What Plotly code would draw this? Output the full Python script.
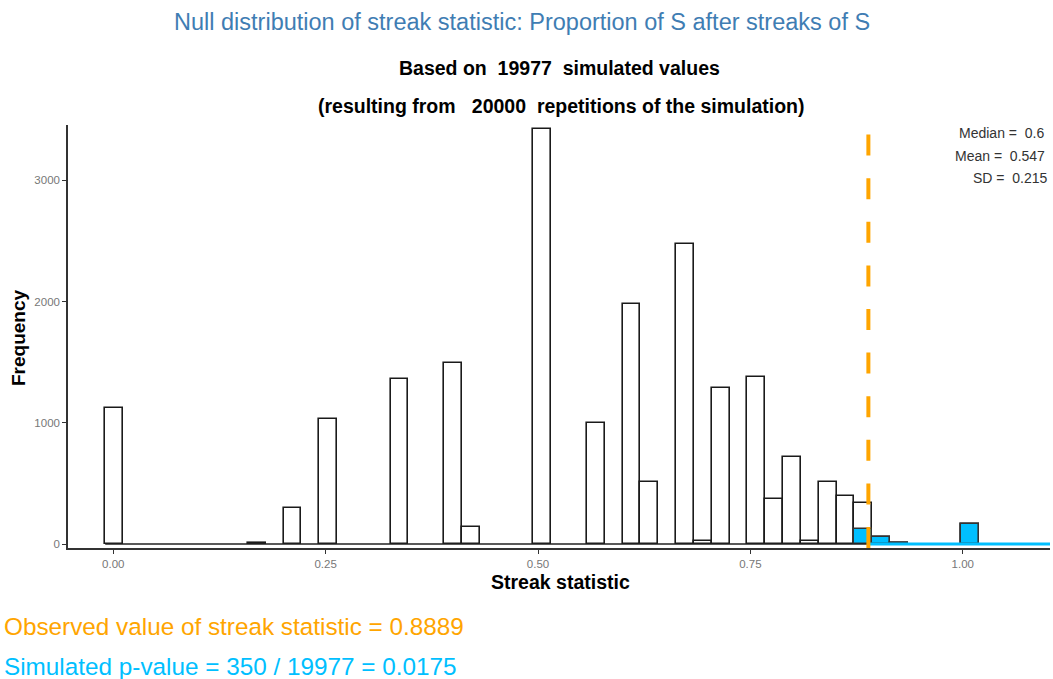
import plotly.graph_objects as go

# ---- data ----
bin_width = 0.021
bin_centers = [0.001, 0.169, 0.211, 0.253, 0.337, 0.400, 0.421, 0.505, 0.568, 0.610,
               0.631, 0.673, 0.694, 0.715, 0.757, 0.778, 0.799, 0.820, 0.841, 0.862,
               0.883, 0.904, 0.925, 1.009]
counts = [1120, 12, 295, 1029, 1359, 1491, 143, 3422, 996, 1980,
          512, 2475, 27, 1290, 1380, 369, 720, 27, 512, 399,
          336, 60, 8, 165]
# simulated values >= observed (shaded)
tail_centers = [0.883, 0.904, 0.925, 1.009]
tail_counts = [121, 60, 8, 165]

observed = 0.8889
n_sim = 19977
n_reps = 20000
n_extreme = 350
p_value = 0.0175
stat_median, stat_mean, stat_sd = 0.6, 0.547, 0.215

x_ticks = [0.0, 0.25, 0.5, 0.75, 1.0]
y_ticks = [0, 1000, 2000, 3000]
x_range = [-0.0533, 1.1027]
y_range = [-33, 3457]

ORANGE = "#FFA500"
SKY = "#00BFFF"
TITLE_BLUE = "#3F7DB3"
FONT = "Liberation Sans, Arial, sans-serif"

W, H = 1053, 679
ML, MR, MT, MB = 68, 3, 125, 131
PW, PH = W - ML - MR, H - MT - MB


def px(xp, yp):
    return (xp - ML) / PW, (H - MB - yp) / PH


fig = go.Figure()

# baseline of empty bins (black for below observed, blue for the tail)
fig.add_trace(go.Scatter(x=[bin_centers[0] - bin_width / 2, observed], y=[0, 0], mode="lines",
                         line=dict(color="#222", width=1.5), hoverinfo="skip", showlegend=False))

fig.add_trace(go.Bar(x=bin_centers, y=counts, width=bin_width,
                     marker=dict(color="white", line=dict(color="#1a1a1a", width=1.6)),
                     showlegend=False))
fig.add_trace(go.Bar(x=tail_centers, y=tail_counts, width=bin_width,
                     marker=dict(color=SKY, line=dict(color="#333", width=1.6)),
                     showlegend=False))

fig.add_trace(go.Scatter(x=[observed, x_range[1]], y=[0, 0], mode="lines",
                         line=dict(color=SKY, width=3), hoverinfo="skip", showlegend=False))

fig.add_shape(type="line", x0=observed, x1=observed, xref="x", yref="y domain", y0=0, y1=0.982,
              line=dict(color=ORANGE, width=4, dash="21px,22.6px"), layer="above")

fig.update_layout(
    width=W, height=H, margin=dict(l=ML, r=MR, t=MT, b=MB),
    paper_bgcolor="white", plot_bgcolor="white", barmode="overlay", bargap=0,
    font=dict(family=FONT),
    xaxis=dict(range=x_range, tickvals=x_ticks, tickformat=".2f", showgrid=False, zeroline=False,
               showline=True, linecolor="#333", linewidth=1.5, ticks="outside", ticklen=4,
               tickcolor="#333", tickfont=dict(size=11.5, color="#777")),
    yaxis=dict(range=y_range, tickvals=y_ticks, tickformat="d", showgrid=False, zeroline=False,
               showline=True, linecolor="#333", linewidth=1.5, ticks="outside", ticklen=4,
               tickcolor="#333", tickfont=dict(size=11.5, color="#777")),
)

NB = "\u00a0"


def ann(text, xp, yp, size, color, xanchor="center", bold=False, angle=0):
    x, y = px(xp, yp)
    t = f"<b>{text}</b>" if bold else text
    fig.add_annotation(text=t, x=x, y=y, xref="paper", yref="paper", xanchor=xanchor,
                       yanchor="middle", showarrow=False, textangle=angle,
                       font=dict(size=size, color=color, family=FONT))


ann("Null distribution of streak statistic: Proportion of S after streaks of S", 522, 22, 23.5, TITLE_BLUE)
ann(f"Based on{NB*2}{n_sim}{NB*2}simulated values", 559, 68, 19.5, "black", bold=True)
ann(f"(resulting from{NB*3}{n_reps}{NB*2}repetitions of the simulation)", 561, 106, 19.5, "black", bold=True)
ann("Frequency", 18, 338, 19, "black", bold=True, angle=-90)
ann("Streak statistic", 560, 582, 19.5, "black", bold=True)
ann(f"Median ={NB*2}{stat_median}", 1046, 133, 14, "#333", xanchor="right")
ann(f"Mean ={NB*2}{stat_mean}", 1047, 156, 14, "#333", xanchor="right")
ann(f"SD ={NB*2}{stat_sd}", 1050, 178, 14, "#333", xanchor="right")
ann(f"Observed value of streak statistic = {observed}", 2, 626, 24.3, ORANGE, xanchor="left")
ann(f"Simulated p-value = {n_extreme} / {n_sim} = {p_value}", 2, 666, 24.3, SKY, xanchor="left")

fig.write_html("out.html", config={"displayModeBar": False},
               post_script="document.body.style.margin='0';")
